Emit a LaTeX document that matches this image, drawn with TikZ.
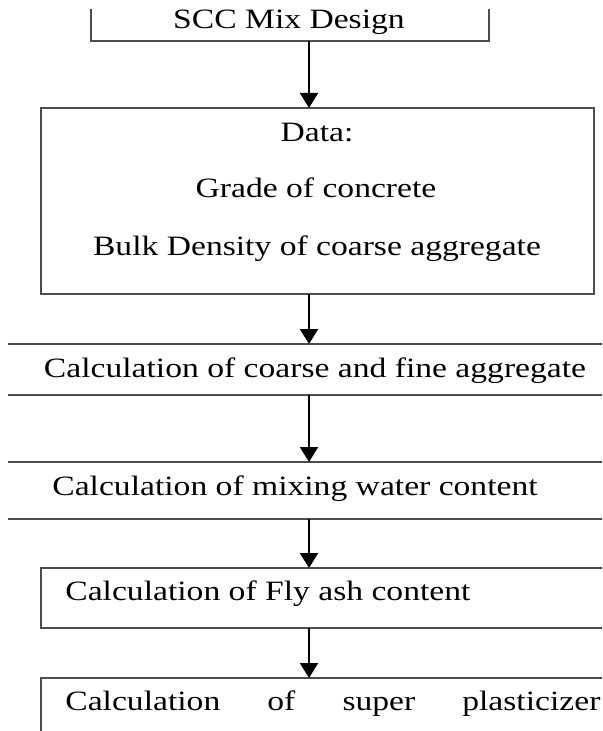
\documentclass[tikz,border=0pt]{standalone}
\usepackage{fontspec}
\setmainfont{Liberation Serif}[FakeStretch=1.2]
\usetikzlibrary{arrows.meta}

\begin{document}
\begin{tikzpicture}[x=0.5pt,y=-0.5pt,
  frame/.style={inner sep=0pt,outer sep=0pt},
  boxline/.style={draw=black!70,line width=1pt},
  flow/.style={-{Triangle[length=7.5pt,width=9pt]},line width=1pt},
  txt/.style={inner sep=0pt,font=\fontsize{14pt}{17pt}\selectfont}]
  \useasboundingbox (0,0) rectangle (602,731);
  \clip (0,0) rectangle (602,731);

  % boxes (most of them run off the cropped page)
  \node[frame,minimum width=199pt,minimum height=16pt] (mix) at (290,25) {};
  \node[frame,boxline,minimum width=276.5pt,minimum height=93pt] (data) at (317.5,201) {};
  \node[frame,minimum width=316pt,minimum height=25.5pt] (coarse) at (324,369.5) {};
  \node[frame,minimum width=316pt,minimum height=28.5pt] (water) at (324,490.5) {};
  \node[frame,minimum width=299.5pt,minimum height=30pt] (flyash) at (340.5,598) {};
  \node[frame,minimum width=299.5pt,minimum height=41pt] (plast) at (340.5,719) {};

  \draw[boxline] (mix.north west) -- (mix.south west) -- (mix.south east) -- (mix.north east);
  \draw[boxline] (coarse.north west) -- (coarse.north east);
  \draw[boxline] (coarse.south west) -- (coarse.south east);
  \draw[boxline] (water.north west) -- (water.north east);
  \draw[boxline] (water.south west) -- (water.south east);
  \draw[boxline] (flyash.north east) -- (flyash.north west) -- (flyash.south west) -- (flyash.south east);
  \draw[boxline] (plast.south west) -- (plast.north west) -- (plast.north east);

  % texts
  \node[txt,anchor=base] (mixtxt) at (289,29) {SCC Mix Design};
  \node[txt,anchor=base] (datatxt) at (317,142) {Data:};
  \node[txt,anchor=base] (grade) at (316,198) {Grade of concrete};
  \node[txt,anchor=base] (bulk) at (317,256) {Bulk Density of coarse aggregate};
  \node[txt,anchor=base] (coarsetxt) at (315,377) {Calculation of coarse and fine aggregate};
  \node[txt,anchor=base west] (watertxt) at (52,495) {Calculation of mixing water content};
  \node[txt,anchor=base west] (flyashtxt) at (65,600) {Calculation of Fly ash content};
  \node[txt,anchor=base west] (plasttxt) at (65,710)
    {\hbox to 267.5pt{Calculation\hfill of\hfill super\hfill plasticizer}};

  % arrows
  \coordinate (axis) at (309,0);
  \draw[flow] (mix.south -| axis) -- (data.north -| axis);
  \draw[flow] (data.south -| axis) -- (coarse.north -| axis);
  \draw[flow] (coarse.south -| axis) -- (water.north -| axis);
  \draw[flow] (water.south -| axis) -- (flyash.north -| axis);
  \draw[flow] (flyash.south -| axis) -- (plast.north -| axis);
\end{tikzpicture}
\end{document}
